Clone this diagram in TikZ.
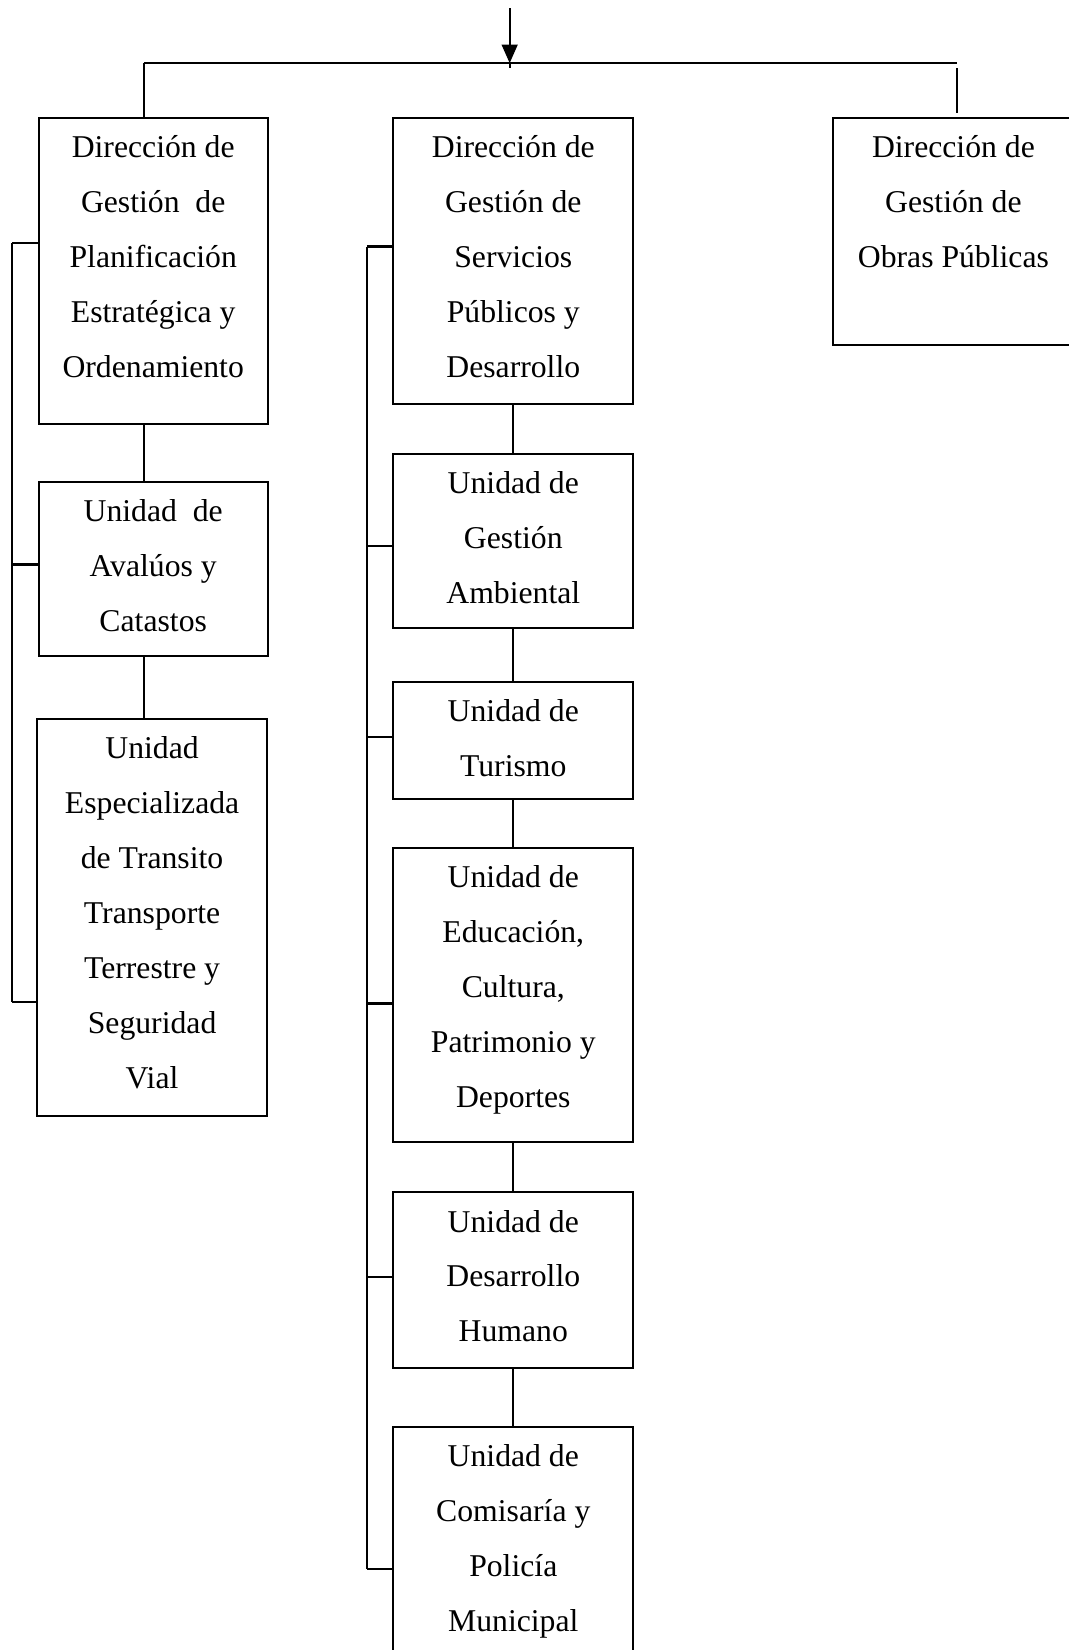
\documentclass[tikz,border=0pt]{standalone}
\usepackage{fontspec}
\setmainfont{Liberation Serif}
\usepackage{tikz}
\usetikzlibrary{positioning, calc, arrows.meta}
\def\boxStroke{0.75pt}
\def\linkStroke{0.7pt}
\def\railStroke{0.85pt}

\begin{document}
\begin{tikzpicture}[
  every node/.style={font=\fontsize{12}{20.8}\selectfont},
  unitbox/.style={draw, line width=\boxStroke, anchor=north west, inner sep=0pt},
  unittext/.style={align=center, inner sep=0pt},
  link/.style={line width=\linkStroke},
  rail/.style={line width=\railStroke}
]

% Page frame
\path[use as bounding box, fill=white] (0,0) rectangle (14.22,-21.95);

% Box sizes
\def\leftw{3.05cm}
\def\midw{3.19cm}
\def\rightw{3.20cm}
\def\textdrop{0.24cm}

% --- Left column ---
\node[unitbox, minimum width=\leftw, minimum height=4.07cm] (plan) at (0.50,-1.556) {};
\node[unittext, below=\textdrop of plan.north] (plan-t)
  {Dirección de\\Gestión\ \ de\\Planificación\\Estratégica y\\Ordenamiento};

\node[unitbox, minimum width=\leftw, minimum height=2.31cm] (aval) at (0.50,-6.40) {};
\node[unittext, below=\textdrop of aval.north] (aval-t)
  {Unidad\ \ de\\Avalúos y\\Catastos};

\node[unitbox, minimum width=3.07cm, minimum height=5.28cm] (trans) at (0.475,-9.55) {};
\node[unittext, below=\textdrop of trans.north] (trans-t)
  {Unidad\\Especializada\\de Transito\\Transporte\\Terrestre y\\Seguridad\\Vial};

% --- Middle column ---
\node[unitbox, minimum width=\midw, minimum height=3.80cm] (serv) at (5.22,-1.556) {};
\node[unittext, below=\textdrop of serv.north] (serv-t)
  {Dirección de\\Gestión de\\Servicios\\Públicos y\\Desarrollo};

\node[unitbox, minimum width=\midw, minimum height=2.32cm] (amb) at (5.22,-6.02) {};
\node[unittext, below=\textdrop of amb.north] (amb-t)
  {Unidad de\\Gestión\\Ambiental};

\node[unitbox, minimum width=\midw, minimum height=1.55cm] (tur) at (5.22,-9.06) {};
\node[unittext, below=\textdrop of tur.north] (tur-t)
  {Unidad de\\Turismo};

\node[unitbox, minimum width=\midw, minimum height=3.91cm] (edu) at (5.22,-11.27) {};
\node[unittext, below=\textdrop of edu.north] (edu-t)
  {Unidad de\\Educación,\\Cultura,\\Patrimonio y\\Deportes};

\node[unitbox, minimum width=\midw, minimum height=2.34cm] (hum) at (5.22,-15.85) {};
\node[unittext, below=\textdrop of hum.north] (hum-t)
  {Unidad de\\Desarrollo\\Humano};

\node[unitbox, minimum width=\midw, minimum height=3.15cm] (pol) at (5.22,-18.97) {};
\node[unittext, below=\textdrop of pol.north] (pol-t)
  {Unidad de\\Comisaría y\\Policía\\Municipal};

% --- Right column ---
\node[unitbox, minimum width=\rightw, minimum height=3.02cm] (obras) at (11.07,-1.556) {};
\node[unittext, below=\textdrop of obras.north] (obras-t)
  {Dirección de\\Gestión de\\Obras Públicas};

% Top arrow and bar
\coordinate (head) at (6.78,-0.11);
\coordinate (hub) at (6.78,-0.84);
\coordinate (barL) at (1.915,-0.84);
\coordinate (barR) at (12.73,-0.84);
\draw[link] (barL) -- (barR);
\draw[link, -{Triangle[length=7pt, width=6pt]}] (head) -- (hub);
\draw[link] (hub) -- ++(0,-0.07);
\draw[link] (barL) -- (barL |- plan.north);
\draw[link, shorten <=0.07cm, shorten >=0.05cm] (barR) -- (barR |- obras.north);

% Links down the left column
\draw[link] (barL |- plan.south) -- (barL |- aval.north);
\draw[link] (barL |- aval.south) -- (barL |- trans.north);

% Links down the middle column
\draw[link] (serv.south) -- (amb.north);
\draw[link] (amb.south) -- (tur.north);
\draw[link] (tur.south) -- (edu.north);
\draw[link] (edu.south) -- (hum.north);
\draw[link] (hum.south) -- (pol.north);

% Left rail
\draw[rail] (0.16,-3.23) -- (0.16,-13.33);
\foreach \y/\n in {-3.23/plan, -7.51/aval, -13.33/trans}
  \draw[rail] (0.16,\y) -- (\n.west |- 0,\y);

% Middle rail
\draw[rail] (4.88,-3.28) -- (4.88,-20.87);
\foreach \y/\n in {-3.28/serv, -7.26/amb, -9.80/tur, -13.35/edu, -16.99/hum, -20.87/pol}
  \draw[rail] (4.88,\y) -- (\n.west |- 0,\y);

\end{tikzpicture}
\end{document}
